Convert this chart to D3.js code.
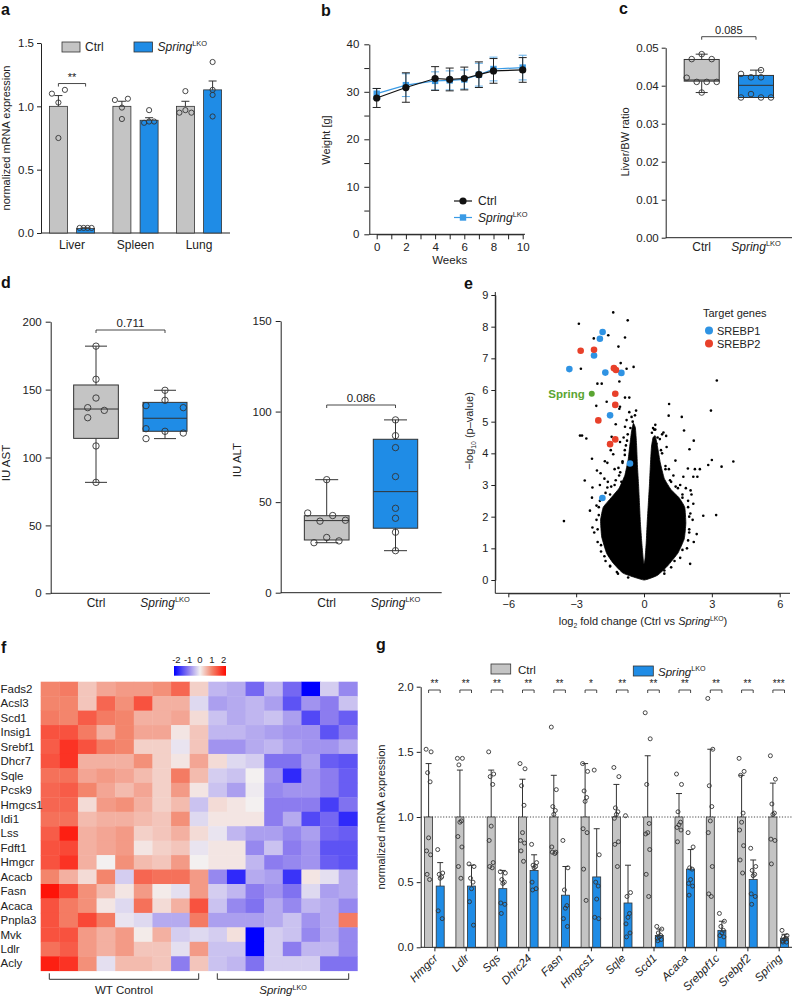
<!DOCTYPE html>
<html><head><meta charset="utf-8">
<script src="https://cdn.jsdelivr.net/npm/d3@7"></script>
<style>
body{margin:0;background:#fff;}
svg{font-family:"Liberation Sans",Arial,Helvetica,sans-serif;}
</style></head><body>
<svg id="fig" width="793" height="1000"></svg>
<script>
// ================= DATA =================
// Panel a
const aTissues = ["Liver","Spleen","Lung"];
const aCtrlMean = [1.0, 1.0, 1.0];
const aCtrlErr  = [0.085, 0.04, 0.04];
const aKoMean   = [0.035, 0.89, 1.13];
const aKoErr    = [0.006, 0.02, 0.07];
const aCtrlPts  = [[1.10,1.03,1.13,0.75],[1.05,1.06,0.99,0.90],[1.12,0.95,0.97,0.95]];
const aKoPts    = [[0.04,0.04,0.04,0.04],[0.97,0.87,0.88,0.88],[1.35,1.13,1.09,0.92]];
// Panel b
const bWeeks  = [0,2,4,5,6,7,8,10];
const bCtrl   = [28.7,30.9,32.8,32.6,32.8,33.6,34.4,34.6];
const bCtrlSd = [2.0,3.1,2.5,2.4,2.4,2.7,2.6,2.6];
const bKo     = [29.6,31.4,32.3,32.4,32.6,33.6,34.8,35.1];
const bKoSd   = [1.1,2.4,1.9,2.0,2.0,2.4,2.5,2.6];
// Panel c  (box stats: min, q1, median, q3, max)
const cCtrlPts = [0.0483,0.047,0.047,0.0421,0.041,0.041,0.041,0.0382];
const cKoPts   = [0.0431,0.0441,0.0422,0.0422,0.0369,0.0378,0.0369,0.0369];
const cCtrlBox = [0.0382,0.0412,0.0415,0.0469,0.0483];
const cKoBox   = [0.0369,0.0369,0.0401,0.0427,0.0441];
// Panel d
const dAstCtrl = [182,157.6,143.8,136.7,129.3,134.7,108.5,81.7];
const dAstKo   = [149.5,142.1,138.2,136.7,121.2,119.3,118.0,113.9];
const dAstCtrlBox = [81.7,114.1,135.7,153.4,182];
const dAstKoBox   = [113.9,119.3,128.9,140.6,149.5];
const dAltCtrl = [62.4,44,42.6,39.5,40,30.5,28.6,27.6];
const dAltKo   = [95.4,86.7,80.1,64.1,46.6,41.1,33.4,23.2];
const dAltCtrlBox = [27.6,29.1,39.8,42.5,62.4];
const dAltKoBox   = [23.2,35.6,55.8,84.7,95.4];
// Panel e
const eSrebp1X = [-1.83,-1.95,-2.21,-3.30,-1.71,-1.00,-1.50,-0.62,-1.84];
const eSrebp1Y = [7.83,7.62,7.09,6.66,6.55,6.54,5.20,3.68,2.59];
const eSrebp2X = [-2.80,-2.21,-1.33,-1.24,-1.27,-1.27,-2.02,-1.27,-1.50];
const eSrebp2Y = [7.24,7.27,6.69,6.63,5.88,5.53,5.04,4.44,4.29];
const eSpring  = [-2.31,5.88];
const eOutX = [-1.36,-2.88,-0.72,-1.58,-2.22,-0.84,-1.13,-1.03,-2.79,-0.77,-0.46,-1.09,-2.06,-1.87,-0.84,-0.65,-2.11,-1.65,-1.06,-1.09,-1.25,-0.77,-0.84,-2.83,-2.74,-2.55,-1.43,-1.06,-1.47,-1.36,-2.30,-1.73,-1.62,-1.13,-2.08,-1.92,-2.62,-2.28,-1.62,-2.39,-3.54,-2.28,-1.50,
  3.22,1.11,1.09,1.67,2.96,1.77,0.86,0.98,2.20,2.01,1.39,3.00,3.95,3.43,2.84,1.94,2.25,2.47,1.74,2.18,2.36,2.06,2.18,2.62,3.19,2.33,2.04,
  -2.0,-2.1,-2.05,-1.9,-1.7,-1.2,-1.5,-1.3,-1.1,-0.95,-0.85,-0.75,-0.6,-0.5,-0.55,-0.65,-2.2,-2.3,-1.95,-1.75,-1.0,-0.4,-0.35,
  0.45,0.6,0.75,0.95,1.2,1.5,1.7,1.95,2.0,2.0,1.9,1.6,1.2,0.9,1.3,1.6,2.1,2.2,1.0,0.8,0.5,0.55,0.4,
  -2.05,-2.0,-1.95,-1.7,-1.45,-1.25,-1.05,-0.95,-0.85,-0.8,-0.72,-1.9,-1.75,-1.5,-1.15,-0.7,-2.1,-1.6,-1.3,-0.9,
  0.7,0.8,0.95,1.15,1.4,1.7,1.95,2.05,2.0,1.95,1.7,1.35,0.9,0.5,0.35,1.1,1.85,2.15];
const eOutY = [8.45,8.09,8.20,7.73,7.63,7.66,7.37,6.85,6.67,6.67,6.73,6.27,6.20,6.20,5.76,5.76,5.50,5.63,5.47,5.41,4.92,5.05,4.84,4.56,4.56,4.47,4.52,4.36,4.10,3.97,3.83,3.75,3.70,3.54,3.46,3.37,3.14,2.92,2.92,2.19,1.86,1.66,0.43,
  6.30,5.56,5.19,5.15,5.35,4.72,4.66,4.55,4.40,4.13,3.77,3.79,3.74,3.58,3.63,3.52,3.50,3.50,3.26,3.26,3.26,2.83,2.41,2.03,2.05,1.45,0.51,
  2.3,1.9,1.2,0.9,0.6,0.25,2.7,3.0,3.3,3.7,4.1,4.4,4.8,5.0,5.15,5.3,1.5,2.6,3.0,3.2,3.1,5.2,5.35,
  4.75,4.5,4.1,3.6,3.1,2.9,2.6,2.3,2.0,1.5,1.0,0.7,0.4,0.2,3.3,3.0,2.7,1.2,4.2,4.6,4.9,4.3,4.8,
  1.6,2.05,2.5,2.75,2.95,3.15,3.4,3.75,3.95,4.25,4.6,1.1,0.75,0.45,0.2,0.08,2.35,3.1,3.5,4.5,
  4.45,4.0,3.5,3.15,2.95,2.7,2.5,2.1,1.6,1.25,0.95,0.6,0.3,4.75,4.65,3.5,2.9,1.9];
// dense cloud outline
const eCloudX = [0,-0.91,-1.36,-1.65,-1.87,-1.92,-1.8,-1.45,-1.1,-0.85,-0.7,-0.62,-0.55,-0.47,-0.38,-0.33,-0.29,-0.24,-0.2,-0.16,-0.1,-0.04,0,0.05,0.1,0.14,0.19,0.24,0.28,0.33,0.4,0.5,0.6,0.72,0.9,1.2,1.55,1.8,1.85,1.78,1.5,1.05,0.6];
const eCloudY = [0,0.21,0.53,0.84,1.36,1.89,2.3,2.6,2.9,3.3,3.8,4.3,4.7,4.95,4.8,4.3,3.6,3.0,2.4,1.8,1.2,0.7,0.5,0.7,1.2,1.8,2.4,3.0,3.6,4.2,4.5,4.55,4.2,3.7,3.2,2.85,2.6,2.3,1.8,1.3,0.85,0.45,0.15];
// Panel f
const fGenes = ["Fads2","Acsl3","Scd1","Insig1","Srebf1","Dhcr7","Sqle","Pcsk9","Hmgcs1","Idi1","Lss","Fdft1","Hmgcr","Acacb","Fasn","Acaca","Pnpla3","Mvk","Ldlr","Acly"];
const fSamples = ["WT1","WT2","WT3","WT4","WT5","WT6","WT7","WT8","WT9","KO1","KO2","KO3","KO4","KO5","KO6","KO7","KO8"];
const fValues = [
 [1.0,1.1,0.4,0.7,0.8,0.8,0.9,1.3,0.3,-0.5,-0.6,-1.2,-0.5,-1.2,-2.2,-0.3,-0.9],
 [1.0,1.0,0.4,1.3,0.9,1.5,0.6,0.6,-0.2,-0.7,-0.6,-0.5,-0.7,-1.4,-0.8,-1.0,-0.4],
 [1.1,1.0,1.4,1.1,1.0,0.6,0.6,0.7,0.2,-0.4,-0.6,-0.5,-0.4,-0.7,-1.5,-1.0,-1.3],
 [1.5,1.5,1.1,0.6,1.0,0.7,0.7,0.1,0.4,-0.5,-0.5,-0.6,-0.7,-0.8,-0.8,-1.4,-1.0],
 [1.4,1.8,1.5,1.1,1.0,0.3,0.3,-0.1,0.4,-0.8,-0.8,-0.6,-0.5,-0.7,-0.8,-0.8,-0.6],
 [1.5,1.8,0.6,0.6,0.6,0.9,0.3,0.1,0.7,0.2,-0.2,-0.3,-1.1,-1.1,-0.7,-1.3,-1.4],
 [1.2,1.2,0.7,0.8,0.7,0.5,0.3,1.1,0.5,-0.3,-0.4,0.0,-0.8,-1.8,-0.8,-1.0,-1.3],
 [1.3,1.4,1.0,0.7,0.5,0.7,0.3,0.8,0.1,-0.4,-0.7,-0.05,-0.9,-0.8,-0.8,-1.0,-1.3],
 [1.3,1.3,0.2,0.8,0.9,0.6,0.3,0.5,-0.4,0.2,0.1,0.0,-1.0,-1.0,-1.0,-1.6,-1.1],
 [1.2,1.2,0.5,0.6,0.6,0.5,0.4,0.9,-0.2,0.1,0.1,0.1,-1.0,-0.6,-1.5,-1.2,-1.8],
 [1.4,2.0,0.6,0.7,0.8,0.3,0.4,0.6,0.2,-0.1,-0.5,-0.7,-0.7,-0.9,-0.7,-1.2,-1.3],
 [1.5,1.6,0.6,0.7,0.8,0.1,0.3,0.4,-0.1,0.1,0.1,-0.9,-0.4,-1.0,-0.8,-1.4,-1.4],
 [1.5,1.8,0.6,0.0,0.9,0.5,0.4,0.8,0.0,0.1,0.1,-0.5,-1.0,-0.9,-0.8,-1.3,-1.4],
 [1.0,0.6,0.2,1.0,-0.3,1.3,1.2,1.2,0.8,-0.9,-1.8,-0.6,-0.7,-1.7,0.1,-0.15,-0.6],
 [2.1,1.6,0.9,0.5,0.1,0.8,0.05,-0.15,0.8,-0.3,-0.5,-1.0,-0.8,-1.1,-0.2,-0.7,-0.6],
 [1.5,1.1,0.9,0.1,-0.2,1.2,0.2,0.6,1.5,-0.4,-0.9,-1.1,-0.6,-0.9,-0.5,-0.6,-0.9],
 [1.5,1.1,1.6,1.1,-0.1,-0.2,-0.6,-0.6,1.1,-0.7,-0.7,-0.7,-0.6,-0.4,-0.8,-0.6,1.1],
 [1.5,1.5,0.8,0.6,0.8,0.05,0.6,-0.3,-0.2,-0.3,0.15,-2.2,-0.3,-0.4,-0.9,-0.6,-0.9],
 [1.2,1.4,0.8,0.6,0.8,0.4,0.4,-0.15,0.8,-0.4,-0.4,-2.3,-0.3,-1.0,-0.5,-0.5,-0.9],
 [2.0,1.8,0.9,-0.15,0.5,0.5,0.4,-1.0,0.4,-0.4,-0.5,-1.1,-0.3,-0.3,-0.3,-1.1,-1.1]
];
const fLegendTicks = [-2,-1,0,1,2];
// Panel g
const gGenes = ["Hmgcr","Ldlr","Sqs","Dhrc24","Fasn","Hmgcs1","Sqle","Scd1","Acaca","Srebpf1c","Srebpf2","Spring"];
const gSig   = ["**","**","**","**","**","*","**","**","**","**","**","***"];
const gCtrlMean = [1,1,1,1,1,1,1,1,1,1,1,1];
const gCtrlErr  = [0.41,0.36,0.36,0.29,0.32,0.41,0.25,0.47,0.18,0.52,0.32,0.26];
const gKoMean   = [0.47,0.47,0.45,0.59,0.40,0.54,0.34,0.09,0.60,0.13,0.52,0.07];
const gKoErr    = [0.18,0.16,0.14,0.12,0.22,0.37,0.29,0.05,0.15,0.07,0.15,0.03];
const gCtrlPts = [
 [1.52,1.50,1.34,1.27,0.84,0.74,0.71,0.56,0.52],
 [1.45,1.45,1.40,0.97,0.96,0.85,0.77,0.62,0.53],
 [1.50,1.33,1.31,1.25,0.93,0.82,0.65,0.62,0.61],
 [1.41,1.37,1.24,1.09,0.88,0.82,0.80,0.74,0.66],
 [1.69,1.21,1.08,1.05,1.02,0.77,0.73,0.73,0.72],
 [1.41,1.35,1.20,1.15,1.12,0.91,0.88,0.60,0.36],
 [1.38,1.31,1.07,1.04,1.02,0.99,0.81,0.79,0.62],
 [1.80,1.60,1.25,0.95,0.88,0.87,0.75,0.56,0.39],
 [1.33,1.25,1.04,0.96,0.94,0.92,0.90,0.81],
 [1.91,1.52,1.24,1.08,0.97,0.88,0.62,0.41,0.39],
 [1.45,1.35,1.32,1.03,0.96,0.90,0.78,0.67,0.57],
 [1.47,1.29,1.10,1.03,1.02,0.83,0.82,0.64]
];
const gKoPts = [
 [0.75,0.57,0.56,0.54,0.53,0.28,0.22],
 [0.64,0.62,0.53,0.50,0.45,0.35,0.17],
 [0.58,0.57,0.52,0.50,0.49,0.34,0.33,0.26],
 [0.79,0.65,0.63,0.62,0.61,0.50,0.45,0.44],
 [0.82,0.61,0.44,0.32,0.30,0.22,0.16],
 [1.36,0.71,0.50,0.47,0.37,0.23,0.22],
 [1.01,0.42,0.39,0.26,0.23,0.18,0.11,0.08],
 [0.16,0.14,0.11,0.09,0.08,0.07,0.06,0.05],
 [0.88,0.77,0.61,0.60,0.52,0.49,0.47,0.40],
 [0.26,0.20,0.16,0.13,0.11,0.09,0.08],
 [0.76,0.62,0.59,0.56,0.55,0.41,0.39,0.33],
 [0.13,0.09,0.08,0.07,0.06,0.05,0.04,0.04]
];

// ================= LAYOUT / STYLE =================
const svg = d3.select("#fig");
const FONT = "'Liberation Sans', Arial, Helvetica, sans-serif";
const BLUE = "#1f8ce6", GREY = "#c4c4c4", INK = "#222";
const RED_E = "#e8402a", BLUE_E = "#2f93e3", GREEN_E = "#5aa532";

function styleAxis(g, size){
  g.attr("font-size", size).attr("font-family", FONT);
  g.selectAll("path,line").attr("stroke", INK).attr("stroke-width", 1);
  g.selectAll("text").attr("fill", INK);
}
function rich(g, x, y, size, anchor, segs, transform){
  const t = g.append("text").attr("x",x).attr("y",y).attr("font-size",size).attr("text-anchor",anchor).attr("fill",INK);
  if (transform) t.attr("transform", transform);
  let cur = 0;
  segs.forEach(s=>{
    const sp = t.append("tspan").text(s.t);
    const target = s.sup ? -size*0.38 : (s.sub ? size*0.28 : 0);
    sp.attr("dy", target-cur); cur = target;
    if (s.sup || s.sub) sp.attr("font-size", size*0.62);
    if (s.it) sp.attr("font-style","italic");
  });
  return t;
}
const springSegs = [{t:"Spring",it:true},{t:"LKO",sup:true}];
function panelLabel(t,x,y){ svg.append("text").attr("x",x).attr("y",y).attr("font-size",16).attr("font-weight","bold").attr("fill","#111").text(t); }
function vlabel(g, x, y, size, segs){ return rich(g, 0, 0, size, "middle", segs, `translate(${x},${y}) rotate(-90)`); }
function hline(g,x1,x2,y,w){ g.append("line").attr("x1",x1).attr("x2",x2).attr("y1",y).attr("y2",y).attr("stroke",INK).attr("stroke-width",w||1); }
function bracket(g,x1,x2,y,h,label,size){
  g.append("path").attr("d",`M${x1},${y+h}V${y}H${x2}V${y+h}`).attr("fill","none").attr("stroke","#333").attr("stroke-width",0.9);
  g.append("text").attr("x",(x1+x2)/2).attr("y",y-3).attr("text-anchor","middle").attr("font-size",size).attr("fill",INK).text(label);
}
function boxPlot(g, y, cx, w, stats, fill, capW){
  const [mn,q1,md,q3,mx] = stats;
  const st = "#333";
  if (mn<q1){ g.append("line").attr("x1",cx).attr("x2",cx).attr("y1",y(mn)).attr("y2",y(q1)).attr("stroke",st);
    g.append("line").attr("x1",cx-capW/2).attr("x2",cx+capW/2).attr("y1",y(mn)).attr("y2",y(mn)).attr("stroke",st); }
  if (mx>q3){ g.append("line").attr("x1",cx).attr("x2",cx).attr("y1",y(mx)).attr("y2",y(q3)).attr("stroke",st);
    g.append("line").attr("x1",cx-capW/2).attr("x2",cx+capW/2).attr("y1",y(mx)).attr("y2",y(mx)).attr("stroke",st); }
  g.append("rect").attr("x",cx-w/2).attr("y",y(q3)).attr("width",w).attr("height",y(q1)-y(q3)).attr("fill",fill).attr("stroke",st).attr("stroke-width",1);
  g.append("line").attr("x1",cx-w/2).attr("x2",cx+w/2).attr("y1",y(md)).attr("y2",y(md)).attr("stroke",st).attr("stroke-width",1);
}
function openPts(g, vals, y, cx, jit, r){
  g.selectAll(null).data(vals).enter().append("circle")
    .attr("cx",(d,i)=>cx+jit[i%jit.length]).attr("cy",d=>y(d)).attr("r",r)
    .attr("fill","none").attr("stroke","#333").attr("stroke-width",0.9);
}

// ---------- Panel a ----------
(function(){
  const g = svg.append("g");
  panelLabel("a",1,15);
  const y = d3.scaleLinear().domain([0,1.5]).range([233,43]);
  const xc = d3.scalePoint().domain(aTissues).range([72,199]);
  const off = 13.6, bw = 18;
  const jitC = [[-6.5,0,6.5,0],[-7,6,0,0],[0,-6,0,6]];
  const jitK = [[-6,-2,2,6],[0,-5,0,5],[0,0,0,0]];
  g.append("g").attr("transform","translate(41,0)")
    .call(d3.axisLeft(y).tickValues([0,0.5,1,1.5]).tickFormat(d3.format(".1f")).tickSize(4).tickPadding(3).tickSizeOuter(0))
    .call(a=>styleAxis(a,11.5));
  hline(g,41,230,233);
  aTissues.forEach((t,i)=>{
    [[aCtrlMean,aCtrlErr,aCtrlPts,GREY,-off,jitC],[aKoMean,aKoErr,aKoPts,BLUE,off,jitK]].forEach(([m,e,p,col,o,jit])=>{
      const cx = xc(t)+o;
      g.append("line").attr("x1",cx).attr("x2",cx).attr("y1",y(m[i])).attr("y2",y(m[i]+e[i])).attr("stroke","#333");
      g.append("line").attr("x1",cx-4).attr("x2",cx+4).attr("y1",y(m[i]+e[i])).attr("y2",y(m[i]+e[i])).attr("stroke","#333");
      g.append("rect").attr("x",cx-bw/2).attr("y",y(m[i])).attr("width",bw).attr("height",y(0)-y(m[i]))
        .attr("fill",col).attr("stroke","#333").attr("stroke-width",0.8);
      openPts(g, p[i], y, cx, jit[i], 2.6);
    });
    g.append("text").attr("x",xc(t)).attr("y",249).attr("text-anchor","middle").attr("font-size",12).attr("fill",INK).text(t);
  });
  bracket(g, xc("Liver")-off, xc("Liver")+off, y(1.18), 3, "**", 11);
  g.append("rect").attr("x",62).attr("y",42).attr("width",18).attr("height",10).attr("fill",GREY).attr("stroke","#333").attr("stroke-width",0.8);
  g.append("text").attr("x",85).attr("y",51).attr("font-size",12).attr("fill",INK).text("Ctrl");
  g.append("rect").attr("x",134).attr("y",42).attr("width",18.5).attr("height",10).attr("fill",BLUE).attr("stroke","#333").attr("stroke-width",0.8);
  rich(g,157.5,51,12,"start",springSegs);
  vlabel(g,10,138,11,[{t:"normalized mRNA expression"}]);
})();

// ---------- Panel b ----------
(function(){
  const g = svg.append("g");
  panelLabel("b",321,16);
  const y = d3.scaleLinear().domain([0,40]).range([234.3,44.3]);
  const x = d3.scaleLinear().domain([0,10]).range([376.7,522.7]);
  g.append("g").attr("transform","translate(369.3,0)")
    .call(d3.axisLeft(y).tickValues(d3.range(0,41,5)).tickFormat(d=>d%10===0?d:"").tickSize(5).tickPadding(5).tickSizeOuter(0))
    .call(a=>styleAxis(a,11.5));
  g.append("g").attr("transform","translate(0,234.3)")
    .call(d3.axisBottom(x).tickValues(d3.range(0,11,1)).tickFormat(d=>d%2===0?d:"").tickSize(5).tickPadding(4).tickSizeOuter(0))
    .call(a=>styleAxis(a,11.5));
  hline(g,369.3,525,234.3);
  g.append("text").attr("x",449.7).attr("y",264).attr("text-anchor","middle").attr("font-size",11.5).attr("fill",INK).text("Weeks");
  vlabel(g,330,140,11,[{t:"Weight [g]"}]);
  const line = d3.line().x((d,i)=>x(bWeeks[i])).y(d=>y(d));
  function series(vals, sd, col, ecol, marker){
    bWeeks.forEach((w,i)=>{
      const cx = x(w), t = y(vals[i]+sd[i]), b = y(vals[i]-sd[i]);
      g.append("line").attr("x1",cx).attr("x2",cx).attr("y1",t).attr("y2",b).attr("stroke",ecol).attr("stroke-width",1);
      [t,b].forEach(yy=>g.append("line").attr("x1",cx-4).attr("x2",cx+4).attr("y1",yy).attr("y2",yy).attr("stroke",ecol).attr("stroke-width",1));
    });
    g.append("path").datum(vals).attr("d",line).attr("fill","none").attr("stroke",col).attr("stroke-width",1.2);
    vals.forEach((v,i)=>{
      if (marker==="sq") g.append("rect").attr("x",x(bWeeks[i])-3.2).attr("y",y(v)-3.2).attr("width",6.4).attr("height",6.4).attr("fill",col);
      else g.append("circle").attr("cx",x(bWeeks[i])).attr("cy",y(v)).attr("r",3.6).attr("fill",col);
    });
  }
  series(bKo,bKoSd,"#3a9be6","#62aee8","sq");
  series(bCtrl,bCtrlSd,"#111","#222","c");
  g.append("line").attr("x1",454).attr("x2",472).attr("y1",201).attr("y2",201).attr("stroke","#111").attr("stroke-width",1.2);
  g.append("circle").attr("cx",463).attr("cy",201).attr("r",3.6).attr("fill","#111");
  g.append("text").attr("x",478).attr("y",205).attr("font-size",12).attr("fill",INK).text("Ctrl");
  g.append("line").attr("x1",454).attr("x2",472).attr("y1",217.5).attr("y2",217.5).attr("stroke","#3a9be6").attr("stroke-width",1.2);
  g.append("rect").attr("x",459.8).attr("y",214.3).attr("width",6.4).attr("height",6.4).attr("fill","#3a9be6");
  rich(g,478,221.5,12,"start",springSegs);
})();

// ---------- Panel c ----------
(function(){
  const g = svg.append("g");
  panelLabel("c",619,14);
  const y = d3.scaleLinear().domain([0,0.05]).range([237.7,47.7]);
  g.append("g").attr("transform","translate(665.7,0)")
    .call(d3.axisLeft(y).tickValues([0,0.01,0.02,0.03,0.04,0.05]).tickFormat(d3.format(".2f")).tickSize(4).tickPadding(3).tickSizeOuter(0))
    .call(a=>styleAxis(a,11.5));
  hline(g,665.7,792,237.7);
  const xC = 701.7, xK = 756;
  boxPlot(g,y,xC,35,cCtrlBox,GREY,12);
  boxPlot(g,y,xK,35,cKoBox,BLUE,12);
  openPts(g,cCtrlPts,y,xC,[0,-10,10,-15,-5,5,15,0],2.8);
  openPts(g,cKoPts,y,xK,[-15,5,-5,5,-15,-5,5,15],2.8);
  bracket(g,xC,xK,36.7,3,"0.085",11);
  g.append("text").attr("x",xC).attr("y",251).attr("text-anchor","middle").attr("font-size",12).attr("fill",INK).text("Ctrl");
  rich(g,xK,251,12,"middle",springSegs);
  vlabel(g,629,142,11,[{t:"Liver/BW ratio"}]);
})();

// ---------- Panel d ----------
(function(){
  const g = svg.append("g");
  panelLabel("d",1,288);
  const y1 = d3.scaleLinear().domain([0,200]).range([593.3,321.7]);
  g.append("g").attr("transform","translate(50.7,0)")
    .call(d3.axisLeft(y1).tickValues([0,50,100,150,200]).tickSize(5).tickPadding(4).tickSizeOuter(0))
    .call(a=>styleAxis(a,11.5));
  hline(g,50.7,210,593.3);
  boxPlot(g,y1,96,44.7,dAstCtrlBox,GREY,22);
  boxPlot(g,y1,165,44,dAstKoBox,BLUE,22);
  openPts(g,dAstCtrl,y1,96,[0,0,0,-8.3,-8.3,8.3,0,0],3.2);
  openPts(g,dAstKo,y1,165,[0,0,-19,18.3,-19,0,18.3,-19],3.2);
  bracket(g,96,165,330,3,"0.711",11.5);
  g.append("text").attr("x",96).attr("y",607).attr("text-anchor","middle").attr("font-size",12).attr("fill",INK).text("Ctrl");
  rich(g,165,607,12,"middle",springSegs);
  vlabel(g,10,463,11.5,[{t:"IU AST"}]);
  const y2 = d3.scaleLinear().domain([0,150]).range([592.7,321]);
  g.append("g").attr("transform","translate(280.7,0)")
    .call(d3.axisLeft(y2).tickValues([0,50,100,150]).tickSize(5).tickPadding(4).tickSizeOuter(0))
    .call(a=>styleAxis(a,11.5));
  hline(g,280.7,441.7,592.7);
  boxPlot(g,y2,326.7,44.7,dAltCtrlBox,GREY,23);
  boxPlot(g,y2,395.5,44.4,dAltKoBox,BLUE,23);
  openPts(g,dAltCtrl,y2,326.7,[0,-19,6,-6.7,18.7,0,12.3,-12.7],3.2);
  openPts(g,dAltKo,y2,395.5,[0],3.2);
  bracket(g,326.7,395.5,405,3,"0.086",11.5);
  g.append("text").attr("x",326.7).attr("y",607).attr("text-anchor","middle").attr("font-size",12).attr("fill",INK).text("Ctrl");
  rich(g,395.5,607,12,"middle",springSegs);
  vlabel(g,241,460,11.5,[{t:"IU ALT"}]);
})();

// ---------- Panel e ----------
(function(){
  const g = svg.append("g");
  panelLabel("e",464,289);
  const x = d3.scaleLinear().domain([-6,6]).range([508.3,779.7]);
  const y = d3.scaleLinear().domain([0,9]).range([580,295]);
  g.append("g").attr("transform","translate(495.3,0)")
    .call(d3.axisLeft(y).tickValues(d3.range(0,10)).tickSize(4).tickPadding(3).tickSizeOuter(0))
    .call(a=>styleAxis(a,11));
  g.append("line").attr("x1",495.3).attr("x2",495.3).attr("y1",292).attr("y2",593.3).attr("stroke",INK);
  g.append("g").attr("transform","translate(0,593.3)")
    .call(d3.axisBottom(x).tickValues([-6,-3,0,3,6]).tickFormat(d=>d<0?"\u2212"+(-d):d).tickSize(4).tickPadding(3).tickSizeOuter(0))
    .call(a=>styleAxis(a,11));
  hline(g,495.3,790,593.3);
  const area = d3.line().x((d,i)=>x(eCloudX[i])).y((d,i)=>y(eCloudY[i])).curve(d3.curveCardinalClosed.tension(0.6));
  g.append("path").datum(eCloudX).attr("d",area).attr("fill","#000").attr("stroke","#000").attr("stroke-width",0.8).attr("stroke-linejoin","round");
  g.selectAll(null).data(eOutX).enter().append("circle")
    .attr("cx",d=>x(d)).attr("cy",(d,i)=>y(eOutY[i])).attr("r",1.3).attr("fill","#000");
  g.selectAll(null).data(eSrebp1X).enter().append("circle")
    .attr("cx",d=>x(d)).attr("cy",(d,i)=>y(eSrebp1Y[i])).attr("r",3.3).attr("fill",BLUE_E);
  g.selectAll(null).data(eSrebp2X).enter().append("circle")
    .attr("cx",d=>x(d)).attr("cy",(d,i)=>y(eSrebp2Y[i])).attr("r",3.3).attr("fill",RED_E);
  g.append("circle").attr("cx",x(eSpring[0])).attr("cy",y(eSpring[1])).attr("r",3).attr("fill",GREEN_E);
  g.append("text").attr("x",x(eSpring[0])-7).attr("y",y(eSpring[1])+4).attr("text-anchor","end").attr("font-size",11.5).attr("font-weight","bold").attr("fill",GREEN_E).text("Spring");
  g.append("text").attr("x",703).attr("y",317).attr("font-size",11).attr("fill",INK).text("Target genes");
  g.append("circle").attr("cx",709).attr("cy",330.5).attr("r",4).attr("fill",BLUE_E);
  g.append("text").attr("x",717).attr("y",334.5).attr("font-size",11).attr("fill",INK).text("SREBP1");
  g.append("circle").attr("cx",709).attr("cy",343.5).attr("r",4).attr("fill",RED_E);
  g.append("text").attr("x",717).attr("y",347.5).attr("font-size",11).attr("fill",INK).text("SREBP2");
  rich(g,643,625,11,"middle",[{t:"log"},{t:"2",sub:true},{t:" fold change (Ctrl vs "},{t:"Spring",it:true},{t:"LKO",sup:true},{t:")"}]);
  vlabel(g,473,431,11,[{t:"\u2212log"},{t:"10",sub:true},{t:" (p\u2013value)"}]);
})();

// ---------- Panel f ----------
(function(){
  const g = svg.append("g");
  panelLabel("f",1,653);
  const x = d3.scaleBand().domain(fSamples).range([40.7,357.3]);
  const y = d3.scaleBand().domain(fGenes).range([681.7,970.7]);
  const cDom = [-2.2,-1,0,1,2.2];
  const cRng = ["#0000ff","#8c7cef","#f3f0f0","#f3856c","#ff0a00"];
  const color = d3.scaleLinear().domain(cDom).range(cRng);
  fValues.forEach((row,ri)=>{
    row.forEach((v,ci)=>{
      g.append("rect").attr("x",x(fSamples[ci])).attr("y",y(fGenes[ri])).attr("width",x.bandwidth()+0.4).attr("height",y.bandwidth()+0.4).attr("fill",color(v));
    });
    g.append("text").attr("x",0.5).attr("y",y(fGenes[ri])+y.bandwidth()/2+4).attr("font-size",11.5).attr("fill",INK).text(fGenes[ri]);
  });
  const defs = svg.append("defs");
  const grad = defs.append("linearGradient").attr("id","hmgrad");
  cDom.forEach((d,i)=>grad.append("stop").attr("offset",((d+2.2)/4.4*100)+"%").attr("stop-color",cRng[i]));
  g.append("rect").attr("x",174).attr("y",666).attr("width",52).attr("height",9.7).attr("fill","url(#hmgrad)");
  const kx = d3.scaleLinear().domain([-2.2,2.2]).range([174,226]);
  fLegendTicks.forEach(t=>g.append("text").attr("x",kx(t)).attr("y",662.5).attr("text-anchor","middle").attr("font-size",9.5).attr("fill",INK).text(t));
  g.append("path").attr("d","M49.3,973.3V979.3H198.7V973.3").attr("fill","none").attr("stroke","#333");
  g.append("path").attr("d","M217.3,973.3V979.3H348.7V973.3").attr("fill","none").attr("stroke","#333");
  g.append("text").attr("x",124).attr("y",994).attr("text-anchor","middle").attr("font-size",11.5).attr("fill",INK).text("WT Control");
  rich(g,283,994,11.5,"middle",springSegs);
})();

// ---------- Panel g ----------
(function(){
  const g = svg.append("g");
  panelLabel("g",376,650);
  const y = d3.scaleLinear().domain([0,2]).range([947.3,686.7]);
  const xc = d3.scalePoint().domain(gGenes).range([434.4,778.7]);
  const off = 5.8, bw = 8;
  g.append("g").attr("transform","translate(420.7,0)")
    .call(d3.axisLeft(y).tickValues([0,0.5,1,1.5,2]).tickFormat(d3.format(".1f")).tickSize(4).tickPadding(3).tickSizeOuter(0))
    .call(a=>styleAxis(a,11.5));
  g.append("g").attr("transform","translate(0,947.3)")
    .call(d3.axisBottom(xc).tickSize(4).tickFormat("").tickSizeOuter(0))
    .call(a=>styleAxis(a,11));
  hline(g,420.7,792,947.3);
  g.append("line").attr("x1",420.7).attr("x2",793).attr("y1",y(1)).attr("y2",y(1)).attr("stroke","#333").attr("stroke-width",0.9).attr("stroke-dasharray","1.2,1.6");
  const jit = [-2.5,2.5,-1,1.5,0,-2,2,-1.5,1];
  gGenes.forEach((gn,i)=>{
    [[gCtrlMean,gCtrlErr,gCtrlPts,GREY,-off],[gKoMean,gKoErr,gKoPts,BLUE,off]].forEach(([m,e,p,col,o])=>{
      const cx = xc(gn)+o;
      g.append("line").attr("x1",cx).attr("x2",cx).attr("y1",y(m[i])).attr("y2",y(m[i]+e[i])).attr("stroke","#333");
      g.append("line").attr("x1",cx-3).attr("x2",cx+3).attr("y1",y(m[i]+e[i])).attr("y2",y(m[i]+e[i])).attr("stroke","#333");
      g.append("rect").attr("x",cx-bw/2).attr("y",y(m[i])).attr("width",bw).attr("height",y(0)-y(m[i]))
        .attr("fill",col).attr("stroke","#333").attr("stroke-width",0.8);
      openPts(g,p[i],y,cx,jit,2);
    });
    bracket(g,xc(gn)-off,xc(gn)+off,690,3,gSig[i],10);
    g.append("text").attr("transform",`translate(${xc(gn)+4},${959}) rotate(-45)`).attr("text-anchor","end")
      .attr("font-size",11.5).attr("font-style","italic").attr("fill",INK).text(gn);
  });
  g.append("rect").attr("x",491).attr("y",664).attr("width",19.7).attr("height",10).attr("fill",GREY).attr("stroke","#333").attr("stroke-width",0.8);
  g.append("text").attr("x",518).attr("y",673.5).attr("font-size",11.5).attr("fill",INK).text("Ctrl");
  g.append("rect").attr("x",633.3).attr("y",666).attr("width",20).attr("height",10).attr("fill",BLUE).attr("stroke","#333").attr("stroke-width",0.8);
  rich(g,658,675.5,11.5,"start",springSegs);
  vlabel(g,385,817,11,[{t:"normalized mRNA expression"}]);
})();
</script>
</body></html>
